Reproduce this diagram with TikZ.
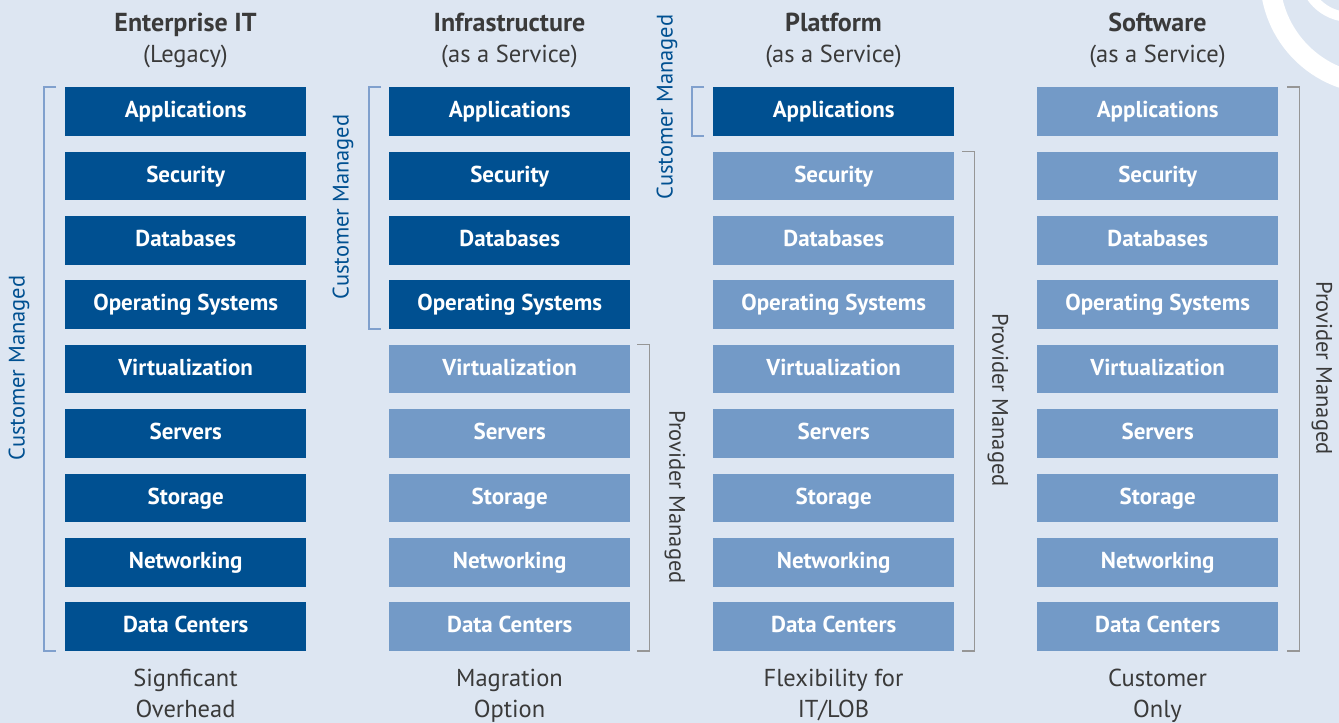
\documentclass[tikz,border=0pt]{standalone}
\usepackage{fontspec}
\setmainfont{PT Sans}
\usetikzlibrary{calc}
\definecolor{bg}{RGB}{221,230,242}
\definecolor{dkb}{RGB}{0,80,145}
\definecolor{ltb}{RGB}{115,154,199}
\definecolor{cbr}{RGB}{128,160,205}
\definecolor{pbr}{RGB}{150,150,150}
\definecolor{hd}{RGB}{58,58,58}
\begin{document}
\begin{tikzpicture}[x=1pt,y=-1pt,
  layer/.style={minimum width=241pt, minimum height=48.5pt, inner sep=0pt, anchor=north west,
    text height=12.6pt, text depth=0pt,
    text=white, font=\fontsize{23}{27}\selectfont\bfseries},
  dkbox/.style={layer, fill=dkb},
  ltbox/.style={layer, fill=ltb},
  headb/.style={text=hd, font=\fontsize{26}{30}\selectfont\bfseries, inner sep=0pt, anchor=base},
  headr/.style={text=hd, font=\fontsize{24.5}{29}\selectfont, inner sep=0pt, anchor=base},
  cbrk/.style={draw=cbr, line width=1.3pt},
  pbrk/.style={draw=pbr, line width=1.3pt},
  clab/.style={text=dkb, font=\fontsize{22.5}{27}\selectfont, rotate=90, inner sep=0pt},
  plab/.style={text=hd, font=\fontsize{22.5}{27}\selectfont, rotate=-90, inner sep=0pt}]
\fill[bg] (0,0) rectangle (1339,723);
\useasboundingbox (0,0) rectangle (1339,723);
\begin{scope}
  \clip (0,0) rectangle (1339,723);
  \draw[white, line width=20pt] (1377,-23) circle (107);
  \draw[white, line width=10pt] (1350,-30) circle (47);
\end{scope}
% layers
\foreach \c/\nd in {1/9,2/4,3/1,4/0} {
  \foreach \t [count=\r] in {Applications,Security,Databases,Operating Systems,Virtualization,Servers,Storage,Networking,Data Centers} {
    \ifnum\r>\nd \def\sty{ltbox}\else\def\sty{dkbox}\fi
    \node[\sty] (c\c r\r) at ({65+324*(\c-1)},{87+64.4*(\r-1)}) {\t};
  }
}
% headers
\node[headb] (h1a) at (185.5,31) {Enterprise IT};
\node[headr] (h1b) at (185.5,62) {(Legacy)};
\node[headb] (h2a) at (509.5,31) {Infrastructure};
\node[headr] (h2b) at (509.5,62) {(as a Service)};
\node[headb] (h3a) at (833.5,31) {Platform};
\node[headr] (h3b) at (833.5,62) {(as a Service)};
\node[headb] (h4a) at (1157.5,31) {Software};
\node[headr] (h4b) at (1157.5,62) {(as a Service)};
% footers
\node[headr] (f1a) at (185.5,686) {Signficant};
\node[headr] (f1b) at (185.5,717) {Overhead};
\node[headr] (f2a) at (509.5,686) {Magration};
\node[headr] (f2b) at (509.5,717) {Option};
\node[headr] (f3a) at (833.5,686) {Flexibility for};
\node[headr] (f3b) at (833.5,717) {IT/LOB};
\node[headr] (f4a) at (1157.5,686) {Customer};
\node[headr] (f4b) at (1157.5,717) {Only};
% brackets
\draw[cbrk] ($(c1r1.north west)+(-9,0)$) -- ($(c1r1.north west)+(-21,0)$) -- ($(c1r9.south west)+(-21,0)$) -- ($(c1r9.south west)+(-9,0)$);
\draw[cbrk] ($(c2r1.north west)+(-8,0)$) -- ($(c2r1.north west)+(-20,0)$) -- ($(c2r4.south west)+(-20,0)$) -- ($(c2r4.south west)+(-8,0)$);
\draw[cbrk] ($(c3r1.north west)+(-9,0)$) -- ($(c3r1.north west)+(-21,0)$) -- ($(c3r1.south west)+(-21,0)$) -- ($(c3r1.south west)+(-9,0)$);
\draw[pbrk] ($(c2r5.north east)+(7,0)$) -- ($(c2r5.north east)+(19,0)$) -- ($(c2r9.south east)+(19,0)$) -- ($(c2r9.south east)+(7,0)$);
\draw[pbrk] ($(c3r2.north east)+(8,0)$) -- ($(c3r2.north east)+(20,0)$) -- ($(c3r9.south east)+(20,0)$) -- ($(c3r9.south east)+(8,0)$);
\draw[pbrk] ($(c4r1.north east)+(9,0)$) -- ($(c4r1.north east)+(21,0)$) -- ($(c4r9.south east)+(21,0)$) -- ($(c4r9.south east)+(9,0)$);
% bracket labels
\node[clab] (l1) at (19,368) {Customer Managed};
\node[clab] (l2) at (343,207) {Customer Managed};
\node[clab] (l3) at (667,107) {Customer Managed};
\node[plab] (l4) at (675,497) {Provider Managed};
\node[plab] (l5) at (998,400) {Provider Managed};
\node[plab] (l6) at (1322,368) {Provider Managed};
\end{tikzpicture}
\end{document}
